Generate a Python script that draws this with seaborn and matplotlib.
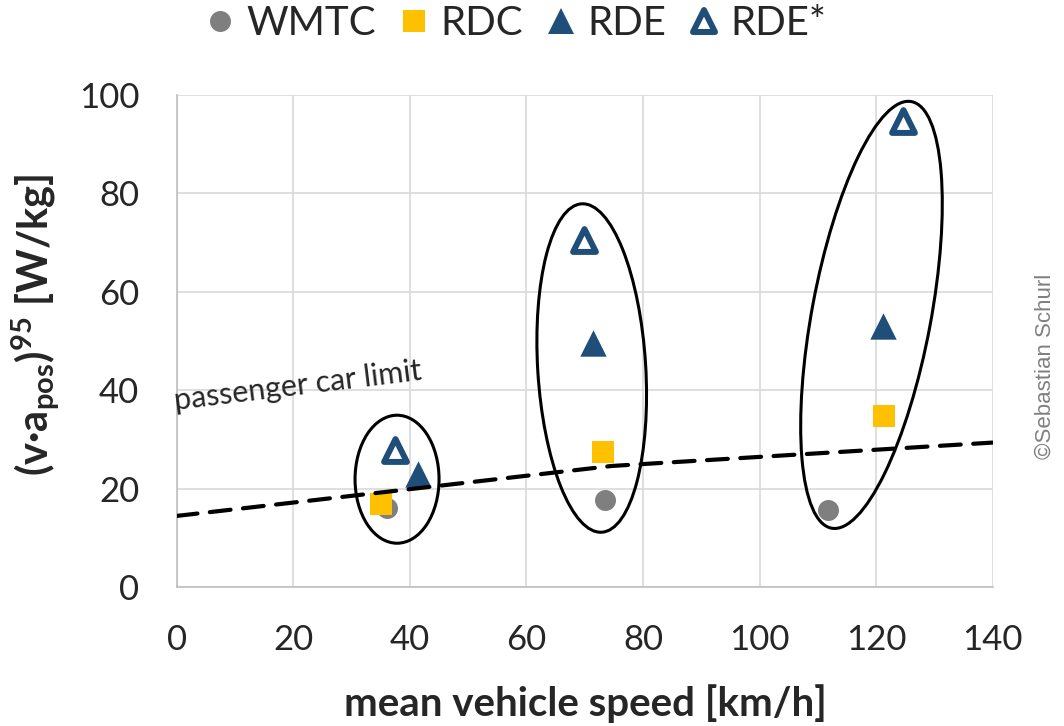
import pandas as pd
import seaborn as sns
import matplotlib.pyplot as plt
from matplotlib.lines import Line2D
from matplotlib.markers import MarkerStyle
from matplotlib.patches import Ellipse
from matplotlib.transforms import ScaledTranslation

# values
cycles = ['WMTC', 'RDC', 'RDE', 'RDE*']
wmtc_speed = [36.0, 73.5, 111.8]
wmtc_power = [16.1, 17.7, 15.7]
rdc_speed = [35.0, 73.2, 121.3]
rdc_power = [16.9, 27.4, 34.8]
rde_speed = [41.4, 71.5, 121.1]
rde_power = [23.0, 49.6, 53.0]
rde_star_speed = [37.4, 69.9, 124.6]
rde_star_power = [27.8, 70.5, 94.8]

# limit line has a kink at 74.6 km/h
limit_speed = [0, 74.6, 140]
limit_power = [14.44, 24.59, 29.35]

# hand-drawn ellipses round each group: centre in data, size in inches, tilt in degrees
group_x = [37.8, 71.2, 119.2]
group_y = [21.9, 44.5, 55.3]
group_w = [0.84, 1.08, 1.19]
group_h = [1.28, 3.29, 4.34]
group_tilt = [0, 3.5, -10.6]

df = pd.concat([
    pd.DataFrame({'speed': wmtc_speed, 'power': wmtc_power, 'cycle': 'WMTC'}),
    pd.DataFrame({'speed': rdc_speed, 'power': rdc_power, 'cycle': 'RDC'}),
    pd.DataFrame({'speed': rde_speed, 'power': rde_power, 'cycle': 'RDE'}),
    pd.DataFrame({'speed': rde_star_speed, 'power': rde_star_power, 'cycle': 'RDE*'}),
], ignore_index=True)

grey = '#7F7F7F'
gold = '#FFC000'
navy = '#1F4E79'

styles = {
    'WMTC': dict(marker='o', color=grey, edgecolor=grey, s=228, linewidth=0),
    'RDC': dict(marker='s', color=gold, edgecolor=gold, s=243, linewidth=0),
    'RDE': dict(marker='^', color=navy, edgecolor=navy, s=361, linewidth=0),
    'RDE*': dict(marker=MarkerStyle('^', joinstyle='round'), color='white',
                 edgecolor=navy, s=270, linewidth=4.3),
}

sns.set_style('white')
plt.rcParams['font.family'] = ['Lato', 'DejaVu Sans']
plt.rcParams['mathtext.fontset'] = 'custom'
plt.rcParams['mathtext.rm'] = 'Lato'
plt.rcParams['mathtext.bf'] = 'Lato:bold'

fig = plt.figure(figsize=(10.64, 7.26), dpi=100)
ax = fig.add_axes([0.1661, 0.1915, 0.7669, 0.6777])

for c in cycles:
    sns.scatterplot(data=df[df['cycle'] == c], x='speed', y='power', ax=ax,
                    legend=False, zorder=3, **styles[c])

# passenger car limit
sns.lineplot(x=limit_speed, y=limit_power, ax=ax, color='black', lw=3,
             zorder=4)
ax.lines[-1].set_dashes([5, 3])
ax.lines[-1].set_dash_capstyle('round')
ax.text(-0.3, 36.0, 'passenger car limit', fontsize=22, rotation=7,
        rotation_mode='anchor', ha='left', va='baseline', zorder=5)

for cx, cy, w, h, t in zip(group_x, group_y, group_w, group_h, group_tilt):
    tr = fig.dpi_scale_trans + ScaledTranslation(cx, cy, ax.transData)
    ax.add_patch(Ellipse((0, 0), w, h, angle=t, transform=tr, fill=False,
                         edgecolor='black', lw=2.2, zorder=5))

ax.set_xlim(0, 140)
ax.set_ylim(0, 100)
ax.set_xticks(range(0, 141, 20))
ax.set_yticks(range(0, 101, 20))
ax.grid(True, color='#D9D9D9', lw=1.2)
ax.set_axisbelow(True)
for side in ['top', 'right']:
    ax.spines[side].set_visible(False)
for side in ['left', 'bottom']:
    ax.spines[side].set_color('#BFBFBF')
    ax.spines[side].set_linewidth(1.2)
ax.tick_params(axis='x', length=0, pad=27, labelsize=25)
ax.tick_params(axis='y', length=0, pad=27, labelsize=25)

ax.set_xlabel('mean vehicle speed [km/h]', fontsize=29, fontweight='bold')
ax.xaxis.set_label_coords(0.5004, -0.198)
ax.set_ylabel(r'$\mathbf{(v·a_{pos})^{95}}$ [W/kg]', fontsize=30,
              fontweight='bold')
ax.yaxis.set_label_coords(-0.141, 0.532)

handles = []
for c in cycles:
    st = styles[c]
    handles.append(Line2D([], [], ls='none', marker=st['marker'],
                          markersize=st['s'] ** 0.5,
                          markerfacecolor=st['color'],
                          markeredgecolor=st['edgecolor'],
                          markeredgewidth=st['linewidth'], label=c))
fig.legend(handles=handles, loc='center', bbox_to_anchor=(0.484, 0.968),
           ncol=4, frameon=False, fontsize=29, handlelength=0.8,
           handletextpad=0.25, columnspacing=0.55)

fig.text(0.982, 0.495, '©Sebastian Schurl', rotation=90, color='#808080',
         fontsize=16, family=['Liberation Sans', 'DejaVu Sans'],
         ha='center', va='center')

fig.savefig('out.png', dpi=100)
